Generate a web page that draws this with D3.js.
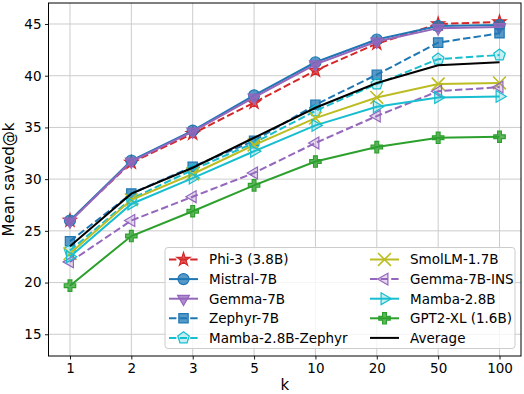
<!DOCTYPE html>
<html>
<head>
<meta charset="utf-8">
<script src="https://cdn.jsdelivr.net/npm/d3@7"></script>
<style>
  body { margin: 0; background: #fff; }
  text { font-family: "DejaVu Sans", sans-serif; fill: #000; }
</style>
</head>
<body>
<svg id="chart"></svg>
<script>
// x categories (k)
const kLabels = ["1", "2", "3", "5", "10", "20", "50", "100"];

// mean saved@k per model
const phi3        = [26.0, 31.6, 34.4, 37.4, 40.5, 43.1, 45.0, 45.2];
const mistral     = [26.0, 31.8, 34.7, 38.1, 41.3, 43.5, 44.8, 44.9];
const gemma       = [25.9, 31.7, 34.6, 37.9, 41.1, 43.3, 44.6, 44.7];
const zephyr      = [24.0, 28.6, 31.2, 33.7, 37.2, 40.1, 43.2, 44.1];
const mambaZephyr = [23.1, 28.1, 30.9, 33.5, 36.6, 39.2, 41.6, 42.0];
const smollm      = [22.8, 28.0, 30.5, 33.3, 35.9, 37.9, 39.2, 39.3];
const gemmaIns    = [22.0, 26.0, 28.3, 30.6, 33.5, 36.1, 38.5, 38.9];
const mamba       = [22.5, 27.6, 30.1, 32.7, 35.2, 37.0, 37.9, 38.0];
const gpt2xl      = [19.7, 24.5, 26.9, 29.4, 31.7, 33.1, 34.0, 34.1];
const average     = [23.5, 28.6, 31.1, 34.0, 36.9, 39.3, 41.0, 41.3];

const yTicks = [15, 20, 25, 30, 35, 40, 45];

const series = [
    {name: "Phi-3 (3.8B)",       values: phi3,        color: "#d62728", dash: true,  marker: "star"},
    {name: "Mistral-7B",         values: mistral,     color: "#1f77b4", dash: false, marker: "circle"},
    {name: "Gemma-7B",           values: gemma,       color: "#9467bd", dash: false, marker: "tridown"},
    {name: "Zephyr-7B",          values: zephyr,      color: "#1f77b4", dash: true,  marker: "square"},
    {name: "Mamba-2.8B-Zephyr",  values: mambaZephyr, color: "#17becf", dash: true,  marker: "pentagon"},
    {name: "SmolLM-1.7B",        values: smollm,      color: "#bcbd22", dash: false, marker: "x"},
    {name: "Gemma-7B-INS",       values: gemmaIns,    color: "#9467bd", dash: true,  marker: "trileft"},
    {name: "Mamba-2.8B",         values: mamba,       color: "#17becf", dash: false, marker: "triright"},
    {name: "GPT2-XL (1.6B)",     values: gpt2xl,      color: "#2ca02c", dash: false, marker: "plus"},
    {name: "Average",            values: average,     color: "#000000", dash: false, marker: null}
];

const W = 524, H = 394;
const pLeft = 48.5, pRight = 521, pTop = 3, pBottom = 356;

const svg = d3.select("#chart")
    .attr("width", W)
    .attr("height", H);

const x = d3.scalePoint()
    .domain(kLabels)
    .range([pLeft, pRight])
    .padding(0.35);

const y = d3.scaleLinear()
    .domain([12.9, 47.03])
    .range([pBottom, pTop]);

// grid
svg.append("g").selectAll("line")
    .data(kLabels).join("line")
    .attr("x1", d => x(d)).attr("x2", d => x(d))
    .attr("y1", pTop).attr("y2", pBottom)
    .attr("stroke", "#cccccc").attr("stroke-width", 1);

svg.append("g").selectAll("line")
    .data(yTicks).join("line")
    .attr("x1", pLeft).attr("x2", pRight)
    .attr("y1", d => y(d)).attr("y2", d => y(d))
    .attr("stroke", "#cccccc").attr("stroke-width", 1);

// axes
let xaxis = d3.axisBottom(x).tickSize(3.5).tickPadding(3.5);
let yaxis = d3.axisLeft(y).tickValues(yTicks).tickSize(3.5).tickPadding(3.5);

const gx = svg.append("g").attr("transform", `translate(0,${pBottom})`).call(xaxis);
const gy = svg.append("g").attr("transform", `translate(${pLeft},0)`).call(yaxis);
[gx, gy].forEach(g => {
    g.select(".domain").remove();
    g.selectAll("text").style("font-size", "13.5px").style("font-family", "DejaVu Sans");
    g.selectAll("line").attr("stroke", "#000").attr("stroke-width", 0.9);
});

// marker shapes
function markerPath(kind, s) {
    if (kind === "circle") return d3.symbol(d3.symbolCircle, s * s * 0.785)();
    if (kind === "square") return d3.symbol(d3.symbolSquare, s * s * 0.72)();
    if (kind === "star") return d3.symbol(d3.symbolStar, s * s * 0.45)();
    if (kind === "x") return d3.symbol(d3.symbolX, s * s * 0.9)();
    if (kind === "plus") return d3.symbol(d3.symbolCross, s * s * 0.6)();
    if (kind === "pentagon") {
        const r = s * 0.55;
        const pts = d3.range(5).map(i => {
            const a = -Math.PI / 2 + i * 2 * Math.PI / 5;
            return [r * Math.cos(a), r * Math.sin(a)];
        });
        return "M" + pts.map(p => p.join(",")).join("L") + "Z";
    }
    // triangles
    return d3.symbol(d3.symbolTriangle, s * s * 0.5)();
}
function markerRot(kind) {
    if (kind === "tridown") return 180;
    if (kind === "trileft") return -90;
    if (kind === "triright") return 90;
    return 0;
}
const hollow = {pentagon: true, trileft: true, triright: true};

function drawMarker(g, kind, color, cx, cy) {
    if (!kind) return;
    g.append("path")
        .attr("d", markerPath(kind, 11))
        .attr("transform", `translate(${cx},${cy}) rotate(${markerRot(kind)})`)
        .attr("fill", kind === "x" ? "none" : color)
        .attr("fill-opacity", hollow[kind] ? 0.25 : 0.75)
        .attr("stroke", color)
        .attr("stroke-width", kind === "x" ? 1.6 : 1.2);
}

const line = d3.line()
    .x((d, i) => x(kLabels[i]))
    .y(d => y(d));

series.forEach(s => {
    const g = svg.append("g");
    g.append("path")
        .attr("d", line(s.values))
        .attr("fill", "none")
        .attr("stroke", s.color)
        .attr("stroke-width", 2)
        .attr("stroke-dasharray", s.dash ? "7.4,3.2" : null);
    s.values.forEach((v, i) => drawMarker(g, s.marker, s.color, x(kLabels[i]), y(v)));
});

// frame
svg.append("rect")
    .attr("x", pLeft).attr("y", pTop)
    .attr("width", pRight - pLeft).attr("height", pBottom - pTop)
    .attr("fill", "none").attr("stroke", "#000").attr("stroke-width", 1);

// axis labels
svg.append("text")
    .attr("x", (pLeft + pRight) / 2).attr("y", 390)
    .attr("text-anchor", "middle")
    .style("font-size", "15px")
    .text("k");

svg.append("text")
    .attr("transform", `translate(14,${(pTop + pBottom) / 2}) rotate(-90)`)
    .attr("text-anchor", "middle")
    .style("font-size", "15px")
    .text("Mean saved@k");

// legend
const lg = svg.append("g");
lg.append("rect")
    .attr("x", 165).attr("y", 247.5)
    .attr("width", 350).attr("height", 101)
    .attr("rx", 3)
    .attr("fill", "#fff").attr("fill-opacity", 0.8)
    .attr("stroke", "#cccccc").attr("stroke-width", 1);

series.forEach((s, i) => {
    const col = Math.floor(i / 5), row = i % 5;
    const x0 = col === 0 ? 169 : 370;
    const yy = 259.5 + row * 19.6;
    lg.append("line")
        .attr("x1", x0).attr("x2", x0 + 29)
        .attr("y1", yy).attr("y2", yy)
        .attr("stroke", s.color).attr("stroke-width", 2)
        .attr("stroke-dasharray", s.dash ? "7.4,3.2" : null);
    drawMarker(lg, s.marker, s.color, x0 + 14.5, yy);
    lg.append("text")
        .attr("x", x0 + 40).attr("y", yy + 4.8)
        .style("font-size", "13.5px")
        .text(s.name);
});
</script>
</body>
</html>
